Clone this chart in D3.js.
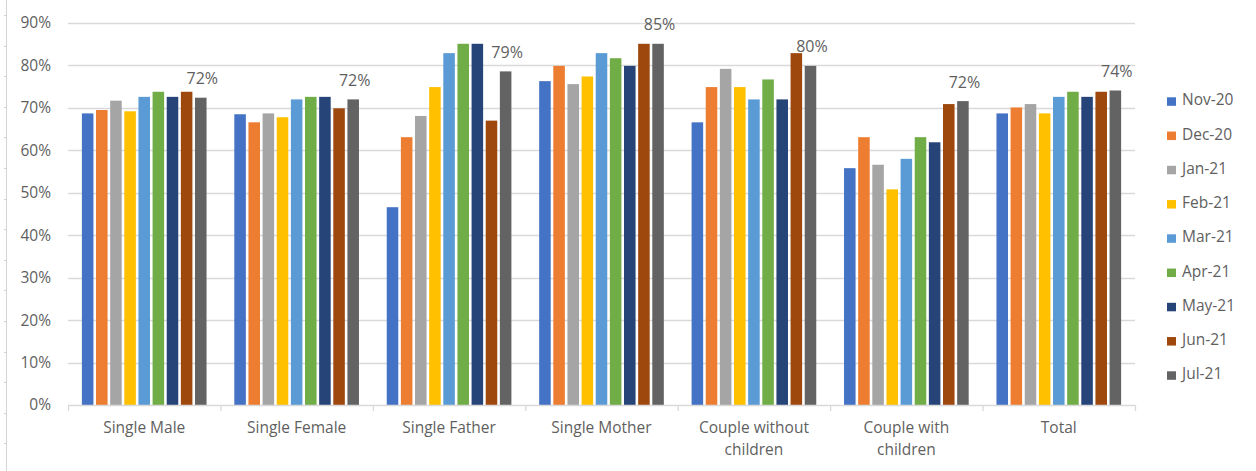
<!DOCTYPE html>
<html>
<head>
<meta charset="utf-8">
<script src="https://cdn.jsdelivr.net/npm/d3@7"></script>
<style>
  html, body { margin: 0; padding: 0; background: #fff; }
  svg { display: block; font-family: "Open Sans", "Noto Sans", sans-serif; }
</style>
</head>
<body>
<svg id="chart" width="1256" height="471"></svg>
<script>
// Household types along the x axis
const categories = [
  ["Single Male"],
  ["Single Female"],
  ["Single Father"],
  ["Single Mother"],
  ["Couple without", "children"],
  ["Couple with", "children"],
  ["Total"]
];

// Monthly series
const months = ["Nov-20", "Dec-20", "Jan-21", "Feb-21", "Mar-21", "Apr-21", "May-21", "Jun-21", "Jul-21"];
const monthColors = ["#4472C4", "#ED7D31", "#A5A5A5", "#FFC000", "#5B9BD5", "#70AD47", "#264478", "#9E480E", "#636363"];

// Share per household type (%), one array per month
const nov20 = [68.7, 68.5, 46.6, 76.3, 66.6, 55.8, 68.7];
const dec20 = [69.5, 66.6, 63.1, 79.9, 74.9, 63.1, 70.1];
const jan21 = [71.7, 68.7, 68.1, 75.6, 79.2, 56.6, 70.9];
const feb21 = [69.2, 67.8, 74.9, 77.4, 74.9, 50.8, 68.7];
const mar21 = [72.6, 72.0, 82.9, 82.9, 72.0, 58.0, 72.6];
const apr21 = [73.8, 72.6, 85.1, 81.7, 76.7, 63.1, 73.8];
const may21 = [72.6, 72.6, 85.1, 79.9, 72.0, 61.9, 72.6];
const jun21 = [73.8, 69.9, 67.0, 85.1, 82.9, 70.9, 73.8];
const jul21 = [72.4, 72.0, 78.6, 85.1, 79.9, 71.6, 74.1];

// y axis ticks
const yTicks = [0, 10, 20, 30, 40, 50, 60, 70, 80, 90];

const seriesValues = [nov20, dec20, jan21, feb21, mar21, apr21, may21, jun21, jul21];

const svg = d3.select("#chart");
const textColor = "#5f5f5f";
const gridColor = "#d9d9d9";
const fontSize = "15.5px";

const plot = { left: 68, right: 1135, top: 23, bottom: 405 };

const x0 = d3.scaleBand()
  .domain(categories.map((c, i) => i))
  .range([plot.left, plot.right])
  .paddingInner(0)
  .paddingOuter(0);

const x1 = d3.scaleBand()
  .domain(months)
  .range([0, x0.bandwidth()])
  .paddingOuter(0.89)
  .paddingInner(0);

const y = d3.scaleLinear().domain([0, 90]).range([plot.bottom, plot.top]);

// faint frame line with ruler marks on the far left
svg.append("line")
  .attr("x1", 6.5).attr("x2", 6.5).attr("y1", 0).attr("y2", 471)
  .attr("stroke", "#d4d4d4").attr("stroke-width", 1);
svg.append("g").selectAll("line")
  .data(d3.range(15, 471, 30.6))
  .join("line")
  .attr("x1", 4).attr("x2", 6.5)
  .attr("y1", d => Math.round(d) + 0.5).attr("y2", d => Math.round(d) + 0.5)
  .attr("stroke", "#d4d4d4");

// horizontal gridlines
svg.append("g").selectAll("line")
  .data(yTicks.filter(t => t > 0))
  .join("line")
  .attr("x1", plot.left).attr("x2", plot.right)
  .attr("y1", d => Math.round(y(d)) + 0.5).attr("y2", d => Math.round(y(d)) + 0.5)
  .attr("stroke", gridColor).attr("stroke-width", 1.3);

// y axis labels
const yAxis = d3.axisLeft(y).tickValues(yTicks).tickFormat(d => d + "%").tickSize(0).tickPadding(0);
const yG = svg.append("g").attr("transform", `translate(${51},0)`).call(yAxis);
yG.select(".domain").remove();
yG.selectAll("text")
  .attr("fill", textColor)
  .style("font-size", fontSize)
  .style("font-family", "'Open Sans', sans-serif");

// bars
const groups = svg.append("g").selectAll("g")
  .data(categories.map((c, i) => i))
  .join("g")
  .attr("transform", i => `translate(${x0(i)},0)`);

groups.selectAll("rect")
  .data(i => months.map((m, k) => ({ month: m, k, v: seriesValues[k][i] })))
  .join("rect")
  .attr("x", d => x1(d.month) + 1.3)
  .attr("width", x1.bandwidth() - 2.6)
  .attr("y", d => y(d.v))
  .attr("height", d => y(0) - y(d.v))
  .attr("fill", d => monthColors[d.k]);

// value labels on the latest month
const lastMonth = months[months.length - 1];
groups.append("text")
  .attr("x", x1(lastMonth) + x1.bandwidth() / 2 + 1.5)
  .attr("y", i => y(jul21[i]) - 13.5)
  .attr("text-anchor", "middle")
  .attr("fill", textColor)
  .style("font-size", "16px")
  .text(i => Math.round(jul21[i]) + "%");

// x axis baseline with category separators
svg.append("line")
  .attr("x1", plot.left).attr("x2", plot.right)
  .attr("y1", plot.bottom + 0.5).attr("y2", plot.bottom + 0.5)
  .attr("stroke", gridColor).attr("stroke-width", 1.3);
svg.append("g").selectAll("line")
  .data(d3.range(categories.length + 1))
  .join("line")
  .attr("x1", i => (i < categories.length ? x0(i) : plot.right) + 0.5)
  .attr("x2", i => (i < categories.length ? x0(i) : plot.right) + 0.5)
  .attr("y1", plot.bottom).attr("y2", plot.bottom + 6)
  .attr("stroke", gridColor).attr("stroke-width", 1.3);

// category labels
const catText = svg.append("g").selectAll("text")
  .data(categories.map((c, i) => i))
  .join("text")
  .attr("text-anchor", "middle")
  .attr("fill", textColor)
  .style("font-size", fontSize)
  .attr("transform", i => `translate(${x0(i) + x0.bandwidth() / 2},${433})`);
catText.selectAll("tspan")
  .data(i => categories[i])
  .join("tspan")
  .attr("x", 0)
  .attr("dy", (d, j) => j === 0 ? 0 : 22)
  .text(d => d);

// legend
const legend = svg.append("g").selectAll("g")
  .data(months)
  .join("g")
  .attr("transform", (d, k) => `translate(1167,${99.3 + k * 34.25})`);
legend.append("rect")
  .attr("x", 0).attr("y", -2)
  .attr("width", 9).attr("height", 8.5)
  .attr("fill", (d, k) => monthColors[k]);
legend.append("text")
  .attr("x", 15).attr("y", 6)
  .attr("fill", textColor)
  .style("font-size", fontSize)
  .text(d => d);
</script>
</body>
</html>
